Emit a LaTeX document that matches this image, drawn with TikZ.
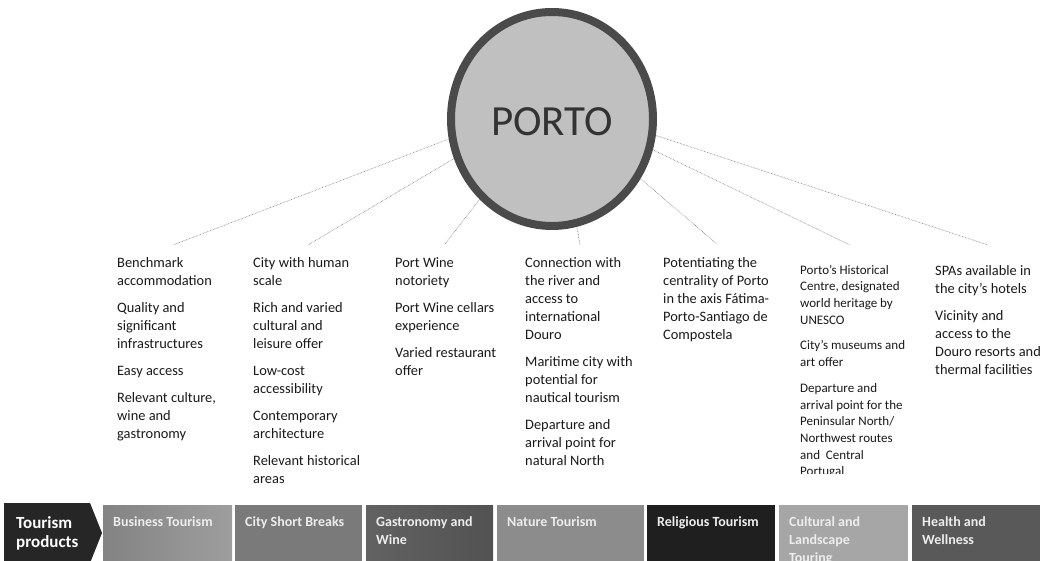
\documentclass[tikz,border=0pt]{standalone}
\usepackage{fontspec}
\setmainfont{Carlito}
\usetikzlibrary{shapes.geometric}

\definecolor{ringgray}{HTML}{4A4A4A}
\definecolor{discgray}{HTML}{C0C0C0}
\definecolor{linkgray}{HTML}{7A7A7A}
\definecolor{prodblack}{HTML}{262626}
\definecolor{busleft}{HTML}{838383}
\definecolor{busright}{HTML}{9E9E9E}
\definecolor{citygray}{HTML}{7A7A7A}
\definecolor{gasleft}{HTML}{626262}
\definecolor{gasright}{HTML}{525252}
\definecolor{natgray}{HTML}{8C8C8C}
\definecolor{relgray}{HTML}{1F1F1F}
\definecolor{culgray}{HTML}{A6A6A6}
\definecolor{heagray}{HTML}{595959}

\begin{document}
\begin{tikzpicture}[x=1pt, y=-1pt, line cap=round, line join=round,
  feat/.style={anchor=north west, inner sep=0pt, align=left, text=black!90, font=\fontsize{14.4}{18}\selectfont},
  featsmall/.style={feat, font=\fontsize{13}{16.7}\selectfont},
  link/.style={draw=linkgray, line width=0.6pt, line cap=butt, dash pattern=on 0.6pt off 0.9pt},
  prodbox/.style={anchor=north west, inner sep=0pt, outer sep=0pt, minimum height=60pt},
  prodtext/.style={anchor=north west, inner sep=0pt, align=left, text=white!93!black, font=\fontsize{14}{18}\selectfont\bfseries}]

  %% ════ central disc ════
  \node[ellipse, draw=ringgray, line width=8pt, fill=discgray, minimum width=202pt, minimum height=214pt,
        inner sep=0pt, text=black!80, text height=34pt, text depth=0pt,
        font=\fontsize{43}{50}\selectfont] (porto) at (552,119) {PORTO};

  %% ════ feature columns ════
  \node[feat] (c1) at (117,254.4) {\strut Benchmark\\accommodation\\[9pt]Quality and\\significant\\infrastructures\\[9pt]Easy access\\[9pt]Relevant culture,\\wine and\\gastronomy};
  \node[feat] (c2) at (253,254.4) {\strut City with human\\scale\\[9pt]Rich and varied\\cultural and\\leisure offer\\[9pt]Low-cost\\accessibility\\[9pt]Contemporary\\architecture\\[9pt]Relevant historical\\areas};
  \node[feat] (c3) at (395,254.4) {\strut Port Wine\\notoriety\\[9pt]Port Wine cellars\\experience\\[9pt]Varied restaurant\\offer};
  \node[feat] (c4) at (525,254.4) {\strut Connection with\\the river and\\access to\\international\\Douro\\[9pt]Maritime city with\\potential for\\nautical tourism\\[9pt]Departure and\\arrival point for\\natural North};
  \node[feat] (c5) at (663,254.4) {\strut Potentiating the\\centrality of Porto\\in the axis Fátima-\\Porto-Santiago de\\Compostela};
  \begin{scope}
    \clip (790,250) rectangle (930,473);
    \node[featsmall] (c6) at (800,262.3) {\strut Porto’s Historical\\Centre, designated\\world heritage by\\UNESCO\\[9pt]City’s museums and\\art offer\\[9pt]Departure and\\arrival point for the\\Peninsular North/\\Northwest routes\\and~~Central\\Portugal};
  \end{scope}
  \node[feat] (c7) at (935,262.4) {\strut SPAs available in\\the city’s hotels\\[9pt]Vicinity and\\access to the\\Douro resorts and\\thermal facilities};

  %% ════ dotted links ════
  \coordinate (e1) at (173,245);
  \coordinate (e2) at (308,245);
  \coordinate (e3) at (445,244);
  \coordinate (e4) at (580,245);
  \coordinate (e5) at (717,244);
  \coordinate (e6) at (850,245);
  \coordinate (e7) at (988,245);
  \draw[link] (porto.191) -- (e1);
  \draw[link] (porto.202) -- (e2);
  \draw[link] (porto.228) -- (e3);
  \draw[link] (porto.283) -- (e4);
  \draw[link] (porto.326) -- (e5);
  \draw[link] (porto.343) -- (e6);
  \draw[link] (porto.351) -- (e7);

  %% ════ product bar ════
  \fill[prodblack] (4,503) -- (90,503) -- (102,533) -- (90,563) -- (4,563) -- cycle;
  \node[prodtext, text=white, font=\fontsize{17}{19.5}\selectfont\bfseries] (tp) at (16,514.3) {\strut Tourism\\products};

  \node[prodbox, minimum width=129pt, left color=busleft, right color=busright] (bus) at (103,505) {};
  \node[prodbox, minimum width=127pt, fill=citygray] (city) at (235,505) {};
  \node[prodbox, minimum width=127pt, left color=gasleft, right color=gasright] (gas) at (366,505) {};
  \node[prodbox, minimum width=147pt, fill=natgray] (nat) at (497,505) {};
  \node[prodbox, minimum width=128pt, fill=relgray] (rel) at (647,505) {};
  \node[prodbox, minimum width=129pt, fill=culgray] (cul) at (779,505) {};
  \node[prodbox, minimum width=128pt, fill=heagray] (hea) at (912,505) {};

  \node[prodtext] (tbus) at ([shift={(10,8.4)}]bus.north west) {\strut Business Tourism};
  \node[prodtext] (tcity) at ([shift={(10,8.4)}]city.north west) {\strut City Short Breaks};
  \node[prodtext] (tgas) at ([shift={(10,8.4)}]gas.north west) {\strut Gastronomy and\\Wine};
  \node[prodtext] (tnat) at ([shift={(10,8.4)}]nat.north west) {\strut Nature Tourism};
  \node[prodtext] (trel) at ([shift={(10,8.4)}]rel.north west) {\strut Religious Tourism};
  \node[prodtext] (tcul) at ([shift={(10,8.4)}]cul.north west) {\strut Cultural and\\Landscape\\Touring};
  \node[prodtext] (thea) at ([shift={(10,8.4)}]hea.north west) {\strut Health and\\Wellness};

  % fix the canvas
  \pgfresetboundingbox
  \path[use as bounding box] (0,0) rectangle (1055,561);
\end{tikzpicture}
\end{document}
